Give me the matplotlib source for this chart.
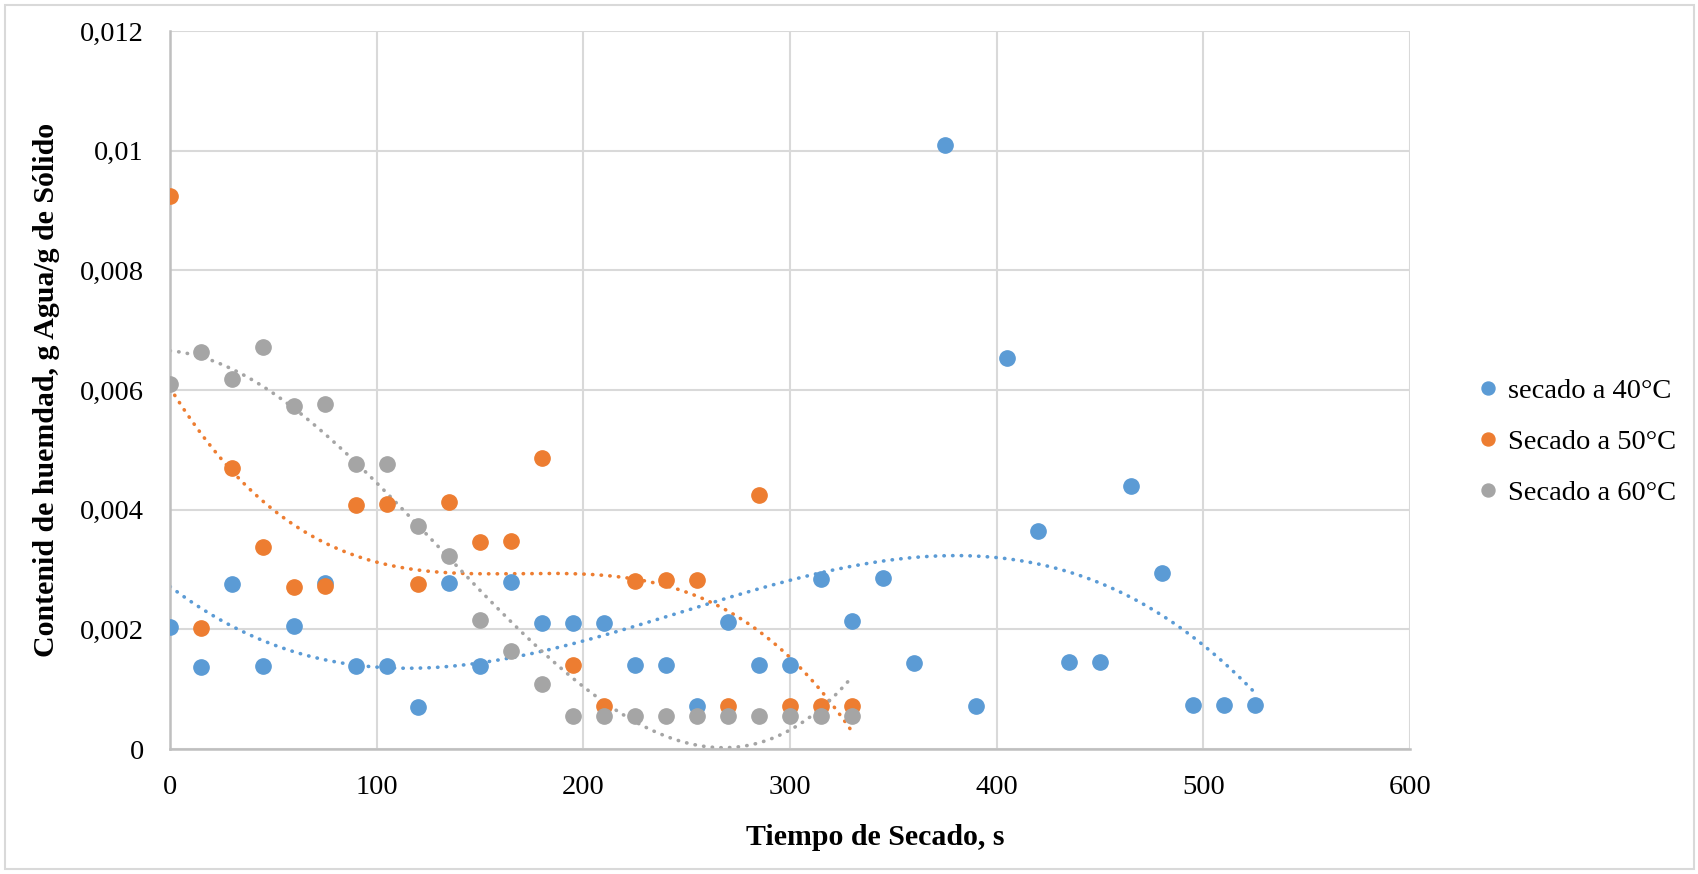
import numpy as np
import matplotlib
matplotlib.use("Agg")
import matplotlib.pyplot as plt
from matplotlib.ticker import FuncFormatter, MultipleLocator
from matplotlib.patches import Rectangle

plt.rcParams['font.family'] = ['Liberation Serif', 'DejaVu Serif']

# drying time, s
t40 = np.arange(0, 526, 15)
t50 = np.arange(0, 331, 15)
t60 = np.arange(0, 331, 15)

# moisture content, g water / g solid
y40 = [0.00204, 0.00137, 0.00275, 0.00138, 0.00206, 0.00277, 0.00139, 0.00139,
       0.00070, 0.00278, 0.00139, 0.00279, 0.00210, 0.00210, 0.00210, 0.00141,
       0.00141, 0.00072, 0.00212, 0.00141, 0.00141, 0.00284, 0.00214, 0.00285,
       0.00143, 0.01010, 0.00072, 0.00654, 0.00364, 0.00145, 0.00145, 0.00440,
       0.00295, 0.00073, 0.00073, 0.00073]
y50 = [0.00925, 0.00202, 0.00470, 0.00338, 0.00271, 0.00272, 0.00408, 0.00410,
       0.00276, 0.00413, 0.00346, 0.00347, 0.00487, 0.00140, 0.00072, 0.00281,
       0.00282, 0.00282, 0.00072, 0.00424, 0.00072, 0.00072, 0.00072]
y60 = [0.00610, 0.00664, 0.00618, 0.00672, 0.00574, 0.00577, 0.00476, 0.00477,
       0.00373, 0.00322, 0.00216, 0.00163, 0.00109, 0.00055, 0.00055, 0.00055,
       0.00055, 0.00055, 0.00055, 0.00055, 0.00055, 0.00055, 0.00055]

series = [
    ("secado a 40°C", t40, y40, "#5B9BD5"),
    ("Secado a 50°C", t50, y50, "#ED7D31"),
    ("Secado a 60°C", t60, y60, "#A5A5A5"),
]

fig = plt.figure(figsize=(16.99, 8.74), dpi=100)
ax = fig.add_axes([0.1001, 0.143, 0.7298, 0.8215])

for label, t, y, c in series:
    ax.plot(t, y, 'o', color=c, markersize=11, label=label, zorder=3)
# polynomial (order 3) trendlines, as in the spreadsheet
for label, t, y, c in series:
    coef = np.polyfit(t, y, 3)
    tt = np.linspace(t[0], t[-1], 300)
    ax.plot(tt, np.polyval(coef, tt), color=c, lw=2.6, linestyle=(0, (0.1, 2.3)),
            dash_capstyle='round', zorder=2)

ax.set_xlim(0, 600)
ax.set_ylim(0, 0.012)
ax.xaxis.set_major_locator(MultipleLocator(100))
ax.yaxis.set_major_locator(MultipleLocator(0.002))
ax.yaxis.set_major_formatter(FuncFormatter(lambda v, p: f"{round(v, 6):g}".replace('.', ',')))
ax.grid(True, color='#D9D9D9', lw=1.5)
ax.set_axisbelow(True)
for s in ['top', 'right']:
    ax.spines[s].set_visible(False)
for s in ['left', 'bottom']:
    ax.spines[s].set_color('#BFBFBF')
    ax.spines[s].set_linewidth(1.8)
ax.tick_params(length=0, labelsize=20.5, pad=19)

ax.set_xlabel("Tiempo de Secado, s", fontsize=21.5, fontweight='bold', labelpad=13)
ax.xaxis.set_label_coords(0.569, -0.105)
ax.set_ylabel("Contenid de huemdad, g Agua/g de Sólido", fontsize=21.5, fontweight='bold', labelpad=14)

ax.legend(loc='center left', bbox_to_anchor=(0.861, 0.494), bbox_transform=fig.transFigure,
          frameon=False, fontsize=20.5, handlelength=0.8, handletextpad=0.3,
          labelspacing=0.88, markerscale=0.85, borderpad=0)

fig.patches.append(Rectangle((0.003, 0.006), 0.994, 0.988, transform=fig.transFigure,
                             fill=False, edgecolor='#D9D9D9', lw=1.5))

fig.savefig("out.png", dpi=100)
